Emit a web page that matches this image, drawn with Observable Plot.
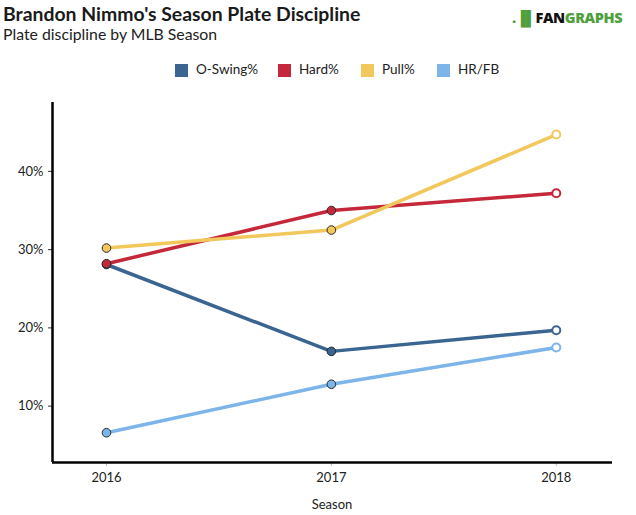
<!DOCTYPE html>
<html>
<head>
<meta charset="utf-8">
<script src="https://cdn.jsdelivr.net/npm/d3@7"></script>
<script src="https://cdn.jsdelivr.net/npm/@observablehq/plot@0.6"></script>
<style>
  html, body { margin: 0; padding: 0; background: #fff; }
  #wrap { position: relative; width: 636px; height: 515px; overflow: hidden; font-family: Lato, "Open Sans", sans-serif; color: #222; }
  #wrap svg { position: absolute; left: 0; top: 0; }
  .title { position: absolute; left: 3px; top: 3px; font-size: 19.4px; font-weight: 700; color: #1a1a1a; white-space: nowrap; line-height: 22px; }
  .subtitle { position: absolute; left: 3px; top: 25px; font-size: 15.8px; color: #222; white-space: nowrap; line-height: 18px; }
  .logo { position: absolute; left: 512px; top: 9px; font-family: "Open Sans", Lato, sans-serif; font-weight: 800; font-size: 14.5px; letter-spacing: -0.4px; white-space: nowrap; line-height: 17px; }
  .logo .fan { color: #111; }
  .logo .gr { color: #4fa03c; }
  .logo .bars { color: #4fa03c; font-weight: 900; }
  .legend { position: absolute; top: 61px; left: 0; width: 636px; height: 20px; }
  .li { position: absolute; top: 0; font-size: 13.5px; color: #222; white-space: nowrap; }
  .li span.sw { position: absolute; left: 0; top: 3px; width: 13px; height: 13px; }
  .li span.tx { position: absolute; left: 21px; top: 0; }
  .xlabel { position: absolute; left: 0; width: 664px; text-align: center; top: 496px; font-size: 13px; color: #222; }
</style>
</head>
<body>
<div id="wrap"></div>
<script>
const seasons = [2016, 2017, 2018];
const seriesNames = ["O-Swing%", "Hard%", "Pull%", "HR/FB"];
const seriesColors = ["#3a6591", "#c5283a", "#f2c75c", "#7db5ea"];
const oSwing = [28.1, 17.0, 19.7];
const hard = [28.2, 35.0, 37.2];
const pull = [30.2, 32.5, 44.7];
const hrfb = [6.6, 12.8, 17.5];
const yTicks = [10, 20, 30, 40];
const legendX = [175, 278, 361, 437];

const valuesBySeries = [oSwing, hard, pull, hrfb];
const data = [];
seriesNames.forEach((s, i) => {
  seasons.forEach((yr, j) => data.push({series: s, season: yr, value: valuesBySeries[i][j]}));
});
const past = data.filter(d => d.season !== 2018);
const last = data.filter(d => d.season === 2018);

const xDomain = [2015.76, 2018.25];
const yDomain = [2.8, 48.8];

const chart = Plot.plot({
  width: 636,
  height: 515,
  marginLeft: 52,
  marginRight: 24,
  marginTop: 102,
  marginBottom: 53,
  style: { fontFamily: "Lato, 'Open Sans', sans-serif", fontSize: "13px", color: "#222", background: "transparent", overflow: "visible" },
  x: { domain: xDomain, axis: null },
  y: { domain: yDomain, axis: null },
  color: { domain: seriesNames, range: seriesColors },
  marks: [
    Plot.axisY({ ticks: yTicks, tickFormat: d => d + "%", tickSize: 4, tickPadding: 5, stroke: "#333", fill: "#222", label: null, fontSize: 13 }),
    Plot.axisX({ ticks: seasons, tickFormat: d => String(d), tickSize: 4, tickPadding: 6, stroke: "#bbb", fill: "#222", label: null, fontSize: 13 }),
    Plot.ruleX([xDomain[0]], { stroke: "#000", strokeWidth: 2.5 }),
    Plot.ruleY([yDomain[0]], { stroke: "#000", strokeWidth: 2.5 }),
    Plot.line(data, { x: "season", y: "value", z: "series", stroke: "series", strokeWidth: 3.5, strokeLinejoin: "round", strokeLinecap: "round" }),
    Plot.dot(past, { x: "season", y: "value", fill: "series", stroke: "#2a2a2a", strokeWidth: 1, r: 4.3 }),
    Plot.dot(last, { x: "season", y: "value", fill: "#fff", stroke: "series", strokeWidth: 2, r: 4 })
  ]
});

const wrap = document.getElementById("wrap");
wrap.appendChild(chart);

const t = document.createElement("div"); t.className = "title"; t.textContent = "Brandon Nimmo's Season Plate Discipline"; wrap.appendChild(t);
const st = document.createElement("div"); st.className = "subtitle"; st.textContent = "Plate discipline by MLB Season"; wrap.appendChild(st);
const logo = document.createElement("div"); logo.className = "logo";
logo.innerHTML = '<span class="bars">.\u2590\u258C</span><span class="fan">FAN</span><span class="gr">GRAPHS</span>';
wrap.appendChild(logo);

const lg = document.createElement("div"); lg.className = "legend";
seriesNames.forEach((s, i) => {
  const li = document.createElement("div"); li.className = "li"; li.style.left = legendX[i] + "px";
  li.innerHTML = `<span class="sw" style="background:${seriesColors[i]}"></span><span class="tx">${s}</span>`;
  lg.appendChild(li);
});
wrap.appendChild(lg);

const xl = document.createElement("div"); xl.className = "xlabel"; xl.textContent = "Season"; wrap.appendChild(xl);
</script>
</body>
</html>
